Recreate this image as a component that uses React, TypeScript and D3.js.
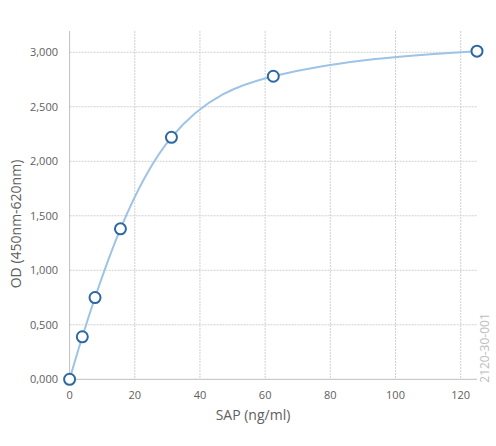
import React from "react";
import * as d3 from "d3";

const concentrations = [0, 3.9, 7.8, 15.6, 31.25, 62.5, 125];
const odValues = [0, 0.39, 0.75, 1.38, 2.22, 2.78, 3.01];
const xTicks = [0, 20, 40, 60, 80, 100, 120];
const yTicks = [0, 0.5, 1.0, 1.5, 2.0, 2.5, 3.0];
const xTitle = "SAP (ng/ml)";
const yTitle = "OD (450nm-620nm)";
const watermark = "2120-30-001";

const W = 496;
const H = 446;
const left = 69.6;
const right = 477;
const top = 31;
const bottom = 379.3;

export default function App() {
  const x = d3.scaleLinear().domain([0, 125]).range([left, right]);
  const y = d3.scaleLinear().domain([0, 3.195]).range([bottom, top]);
  const pts = concentrations.map((c, i) => [c, odValues[i]] as [number, number]);
  const line = d3
    .line<[number, number]>()
    .x((d) => x(d[0]))
    .y((d) => y(d[1]))
    .curve(d3.curveMonotoneX);
  const fmt = (v: number) => v.toFixed(3).replace(".", ",");
  const font = "'Open Sans', 'Noto Sans', sans-serif";
  const grid = "#d0d0d0";
  return (
    <svg
      width={W}
      height={H}
      style={{ position: "absolute", left: 0, top: 0, background: "#fff" }}
      fontFamily={font}
    >
      {yTicks.filter((t) => t > 0).map((t) => (
        <line key={"gy" + t} x1={left} x2={right} y1={y(t)} y2={y(t)} stroke={grid} strokeDasharray="2,1" strokeWidth={1} />
      ))}
      {xTicks.filter((t) => t > 0).map((t) => (
        <line key={"gx" + t} x1={x(t)} x2={x(t)} y1={top} y2={bottom} stroke={grid} strokeDasharray="2,1" strokeWidth={1} />
      ))}
      <line x1={left} x2={left} y1={top} y2={bottom} stroke="#bfbfbf" strokeWidth={1} />
      <line x1={left} x2={right} y1={bottom} y2={bottom} stroke="#bfbfbf" strokeWidth={1} />
      {yTicks.map((t) => (
        <text key={"ty" + t} x={58} y={y(t)} dy="0.35em" textAnchor="end" fontSize={11} fill="#606060">
          {fmt(t)}
        </text>
      ))}
      {xTicks.map((t) => (
        <text key={"tx" + t} x={x(t)} y={399} textAnchor="middle" fontSize={11} fill="#606060">
          {t}
        </text>
      ))}
      <text x={253} y={420} textAnchor="middle" fontSize={14} fill="#606060">
        {xTitle}
      </text>
      <text
        transform={`translate(21,224) rotate(-90)`}
        textAnchor="middle"
        fontSize={14}
        fill="#606060"
      >
        {yTitle}
      </text>
      <text
        transform={`translate(489,348) rotate(-90)`}
        textAnchor="middle"
        fontSize={12}
        fill="#bdbdbd"
      >
        {watermark}
      </text>
      <path d={line(pts) || ""} fill="none" stroke="#9dc3e6" strokeWidth={2} />
      {pts.map((p, i) => (
        <circle key={i} cx={x(p[0])} cy={y(p[1])} r={5.5} fill="#fff" stroke="#2f67a3" strokeWidth={2} />
      ))}
    </svg>
  );
}
